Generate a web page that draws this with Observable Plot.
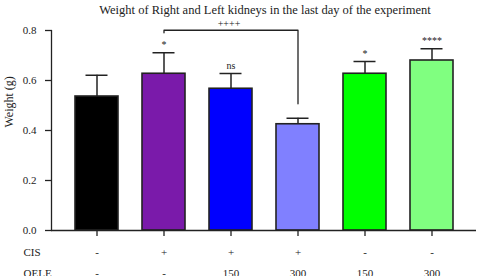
<!DOCTYPE html>
<html>
<head>
<meta charset="utf-8">
<script src="https://cdn.jsdelivr.net/npm/d3@7"></script>
<script src="https://cdn.jsdelivr.net/npm/@observablehq/plot@0.6"></script>
<style>
  html, body { margin: 0; padding: 0; background: #fff; }
  #chart svg { display: block; }
  #chart svg text { font-family: "Liberation Serif", serif !important; }
</style>
</head>
<body>
<div id="chart"></div>
<script>
// Data
const groups = ["Control", "CIS", "CIS+OELE150", "CIS+OELE300", "OELE150", "OELE300"];
const means = [0.536, 0.627, 0.567, 0.425, 0.627, 0.680];
const upper = [0.621, 0.711, 0.628, 0.449, 0.676, 0.727];
const colors = ["#000000", "#7a1aaa", "#0000ff", "#8080ff", "#00ff00", "#80ff80"];
const signif = ["", "*", "ns", "", "*", "****"];
const cisRow = ["-", "+", "+", "+", "-", "-"];
const oeleRow = ["-", "-", "150", "300", "150", "300"];
const yTicks = [0, 0.2, 0.4, 0.6, 0.8];
const rowLabels = ["CIS", "OELE"];
// comparison bracket CIS vs CIS+OELE300
const bracketX = ["CIS", "CIS", "CIS+OELE300", "CIS+OELE300"];
const bracketY = [0.791, 0.801, 0.801, 0.507];
const bracketLabel = "++++";
const title = "Weight of Right and Left kidneys in the last day of the experiment";

const data = groups.map((g, i) => ({group: g, mean: means[i], upper: upper[i], color: colors[i], sig: signif[i], cis: cisRow[i], oele: oeleRow[i]}));
const bracket = bracketX.map((x, i) => ({x, y: bracketY[i]}));

const ink = "#222";
const ff = "Liberation Serif";
const chart = Plot.plot({
  width: 478,
  height: 276,
  marginTop: 30,
  marginBottom: 46,
  marginLeft: 51,
  marginRight: 2,
  style: {fontFamily: "'Liberation Serif', serif", fontSize: "11px", background: "#fff", color: ink, overflow: "visible"},
  x: {domain: groups, paddingInner: 0.36, paddingOuter: 0.332, axis: null},
  y: {domain: [0, 0.8], axis: null},
  marks: [
    Plot.axisX({tickSize: 6, tickFormat: () => "", stroke: ink, strokeWidth: 1.3}),
    Plot.axisY({ticks: yTicks, tickSize: 6, tickPadding: 9, tickFormat: d3.format(".1f"), stroke: ink, strokeWidth: 1.3, fill: ink, fontSize: 11, fontFamily: ff, label: null}),
    Plot.frame({anchor: "left", stroke: ink, strokeWidth: 1.3}),
    Plot.barY(data, {x: "group", y: "mean", fill: "color", stroke: ink, strokeWidth: 1.6}),
    Plot.ruleX(data, {x: "group", y1: "mean", y2: "upper", stroke: ink, strokeWidth: 1.5}),
    Plot.tickY(data, {x: "group", y: "upper", stroke: ink, strokeWidth: 1.5, insetLeft: 10.5, insetRight: 10.5}),
    Plot.ruleY([0], {stroke: ink, strokeWidth: 1.3}),
    Plot.text(data, {x: "group", y: "upper", text: "sig", dy: -8, fontSize: 10, fontFamily: ff, fill: ink}),
    Plot.line(bracket, {x: "x", y: "y", stroke: ink, strokeWidth: 1.3, curve: "linear"}),
    Plot.text([bracketLabel], {x: () => groups[2], y: () => 0.8, text: d => d, dx: -2, dy: -7, fontSize: 10, fontFamily: ff, fill: ink}),
    Plot.text(data, {x: "group", text: "cis", frameAnchor: "bottom", lineAnchor: "middle", dy: 22, fontSize: 11, fontFamily: ff, fill: ink}),
    Plot.text(data, {x: "group", text: "oele", frameAnchor: "bottom", lineAnchor: "middle", dy: 43, fontSize: 11, fontFamily: ff, fill: ink}),
    Plot.text([rowLabels[0]], {frameAnchor: "bottom-left", lineAnchor: "middle", text: d => d, dx: -28, dy: 22, textAnchor: "start", fontSize: 11, fontFamily: ff, fill: ink}),
    Plot.text([rowLabels[1]], {frameAnchor: "bottom-left", lineAnchor: "middle", text: d => d, dx: -28, dy: 43, textAnchor: "start", fontSize: 11, fontFamily: ff, fill: ink}),
    Plot.text(["Weight (g)"], {frameAnchor: "left", text: d => d, rotate: -90, dx: -42, dy: -3, fontSize: 12, fontFamily: ff, fill: ink}),
    Plot.text([title], {frameAnchor: "top", lineAnchor: "middle", text: d => d, dx: 1, dy: -20.5, fontSize: 12.5, fontFamily: ff, fill: ink})
  ]
});
document.getElementById("chart").appendChild(chart);
</script>
</body>
</html>
